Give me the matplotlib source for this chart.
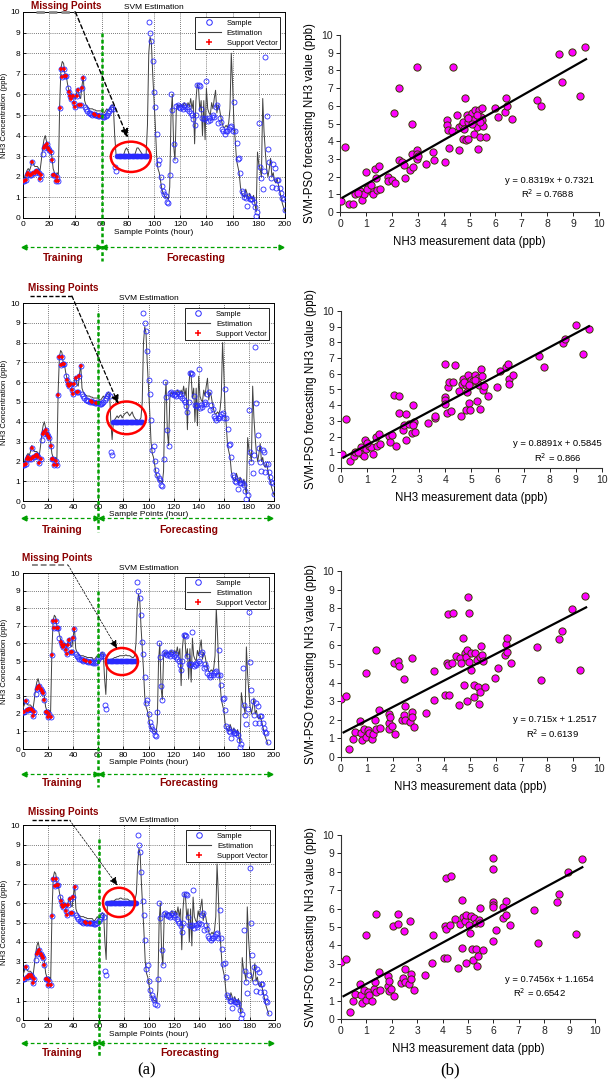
import numpy as np
import matplotlib
matplotlib.use('Agg')
import matplotlib.pyplot as plt
from matplotlib.patches import Ellipse
from matplotlib.lines import Line2D

plt.rcParams['font.family'] = ['Liberation Sans', 'DejaVu Sans']
nan = np.nan

# ---------------- time-series data (hourly samples, index = hour) ----------------
sample_base = [
    1.8, 1.8, 1.85, 2.1, 2.2, 2.1, 2.1, 2.7, 2.2, 2.2,
    2.3, 2.3, 2.2, 1.9, 2.1, 3.1, 3.4, 3.5, 3.6, 3.4,
    3.3, 3.2, 2.8, 2.1, 2.1, 1.8, 2.0, 1.8, 5.35, 7.25,
    6.85, 7.25, 6.9, 6.9, 6.3, 6.1, 5.9, 5.8, 5.9, 5.6,
    5.4, 5.9, 6.2, 5.5, 5.5, 6.3, 6.8, 5.4, 5.3, 5.2,
    5.1, 5.1, 5.05, 5.0, 5.05, 5.0, 5.0, 4.95, 4.95, 5.0,
    4.95, 4.9, 4.9, 4.95, 5.0, 5.1, 5.2, 5.3, 5.4, 5.3,
    2.5, 2.3,
    nan, nan, nan, nan, nan, nan, nan, nan, nan, nan, nan, nan,
    nan, nan, nan, nan, nan, nan, nan, nan, nan, nan, nan, nan,
    9.5, 9.0, 8.6, 7.6, 6.1, 5.4, 4.1, 2.6, 2.8, 2.0,
    1.55, 1.3, 1.15, 1.05, 0.8, 0.75, 2.1, 6.0, 5.25, 3.6,
    2.8, 5.45, 5.5, 5.4, 5.35, 5.4, 5.3, 5.5, 5.4, 5.3,
    5.4, 5.2, 5.1, 5.0, 4.8, 4.5, 5.0, 6.45, 6.45, 6.4,
    5.3, 4.85, 4.8, 4.85, 6.65, 4.7, 4.85, 4.75, 4.9, 5.0,
    4.9, 5.4, 5.5, 4.6, 4.85, 4.65, 4.3, 4.2, 4.1, 4.2,
    4.2, 4.3, 4.4, 4.45, 4.2, 5.65, 4.2, 3.65, 2.85, 2.9,
    2.2, 1.3, 1.2, 1.0, 0.97, 0.6, 1.05, 0.9, 0.92, 0.9,
    0.8, 0.53, 0.11, 0.29, 4.6, 2.5, 1.95, 1.4, 2.3, 7.8,
    4.95, 3.35, 2.7, 1.95, 1.5, 2.6, 2.45, 1.45, 1.85, 1.85,
    1.45, 1.2, 0.97, 0.9, 0.37,
]
estimation_base = [
    1.9, 1.95, 2.1, 2.3, 2.4, 2.3, 2.5, 2.8, 2.6, 2.5,
    2.5, 2.5, 2.4, 2.3, 2.8, 3.4, 3.8, 4.0, 3.7, 3.5,
    3.4, 3.3, 3.0, 2.4, 2.2, 2.0, 2.2, 2.1, 5.5, 7.3,
    7.6, 7.5, 7.0, 6.9, 6.5, 6.2, 6.1, 6.0, 6.0, 5.9,
    5.8, 6.1, 6.3, 5.9, 5.8, 6.4, 6.9, 5.7, 5.5, 5.4,
    5.35, 5.3, 5.3, 5.3, 5.25, 5.25, 5.2, 5.2, 5.2, 5.2,
    5.2, 5.1, 5.1, 5.2, 5.3, 5.2, 5.3, 5.4, 5.5, 5.4,
    4.0, 3.1,
    nan, nan, nan, nan, nan, nan, nan, nan, nan, nan, nan, nan,
    nan, nan, nan, nan, nan, nan, nan, nan, nan, nan, nan, nan,
    8.0, 8.8, 8.5, 7.0, 5.8, 4.5, 3.0, 2.4, 2.2, 1.8,
    1.4, 1.2, 1.1, 1.0, 1.0, 0.9, 1.5, 5.0, 6.0, 3.5,
    2.8, 5.2, 5.5, 5.4, 5.5, 5.5, 5.4, 5.6, 5.5, 5.4,
    5.6, 5.4, 5.8, 5.3, 5.7, 3.6, 5.7, 6.5, 6.3, 5.2,
    5.7, 4.0, 5.7, 3.8, 6.3, 5.3, 5.1, 5.0, 5.6, 5.3,
    5.8, 6.2, 5.1, 5.5, 5.3, 4.9, 4.6, 4.4, 4.4, 4.5,
    4.4, 4.6, 5.3, 8.0, 6.5, 4.6, 3.8, 2.8, 2.5, 2.2,
    1.5, 1.2, 1.1, 1.0, 1.4, 1.2, 0.9, 1.2, 1.0, 0.9,
    1.1, 0.7, 0.3, 3.2, 2.6, 2.4, 2.0, 5.8, 4.2, 3.2,
    2.4, 2.0, 2.4, 2.9, 2.0, 2.2, 1.8, 1.7, 1.9, 1.6,
    1.3, 1.0, 0.7, 0.5, 0.3,
]
missing_start = 72
missing_value = [3, 4, 5, 6]
est_missing_1 = [3.0, 3.0, 3.0, 3.0, 3.0, 3.1, 3.3, 3.4, 3.3, 3.1, 3.0, 3.0,
                 3.0, 3.0, 3.2, 3.4, 3.4, 3.3, 3.2, 3.1, 3.0, 3.0, 3.1, 4.5]
est_missing_2 = [4.0, 4.1, 4.2, 4.3, 4.2, 4.3, 4.35, 4.2, 4.3, 4.4, 4.45, 4.5,
                 4.4, 4.3, 4.4, 4.5, 4.3, 4.2, 4.1, 4.1, 4.0, 4.1, 4.2, 5.0]
est_missing_3 = [5.0, 5.0, 5.05, 5.1, 5.1, 5.15, 5.2, 5.2, 5.25, 5.25, 5.3, 5.3,
                 5.3, 5.3, 5.3, 5.35, 5.3, 5.3, 5.3, 5.25, 5.2, 5.2, 5.3, 6.0]
est_missing_4 = [6.0, 6.0, 6.05, 6.1, 6.1, 6.1, 6.15, 6.2, 6.2, 6.2, 6.25, 6.25,
                 6.2, 6.2, 6.2, 6.2, 6.2, 6.15, 6.1, 6.1, 6.1, 6.1, 6.2, 6.5]
est_missing = [est_missing_1, est_missing_2, est_missing_3, est_missing_4]
support_idx = [0, 1, 2, 3, 4, 5, 6, 7, 8, 9, 10, 11, 12, 13, 14, 16, 17, 18, 19, 20,
               21, 22, 23, 24, 25, 26, 27, 28, 29, 30, 31, 32, 33, 35, 36, 37, 38,
               39, 40, 41, 42, 43, 44, 45, 46, 54, 55, 58]
hour_shift = [0, 0, -5, -5]

# ---------------- scatter data (measured, forecast) ----------------
scatter_1 = [(0.04, 0.6), (0.2, 3.7), (0.35, 0.43), (0.5, 0.47), (0.58, 1.04), (0.77, 1.2),
             (0.84, 0.7), (0.94, 1.04), (1.0, 2.26), (1.09, 1.42), (1.18, 1.2), (1.26, 1.04),
             (1.35, 2.45), (1.39, 1.92), (1.42, 1.26), (1.5, 2.58), (1.54, 1.28), (1.87, 1.98),
             (1.87, 1.74), (2.0, 1.8), (2.1, 5.57), (2.12, 1.64), (2.26, 6.98), (2.26, 2.96),
             (2.38, 2.83), (2.47, 2.64), (2.51, 1.94), (2.7, 2.36), (2.77, 3.26), (2.79, 5.0),
             (2.83, 2.55), (2.99, 8.21), (2.99, 3.53), (2.99, 3.3), (2.99, 3.02), (3.32, 2.7),
             (3.6, 3.4), (3.63, 2.96), (4.04, 2.83), (4.12, 5.19), (4.14, 4.9), (4.18, 4.62),
             (4.22, 3.62), (4.35, 8.21), (4.31, 4.58), (4.5, 5.47), (4.6, 3.49), (4.6, 4.81),
             (4.7, 4.9), (4.76, 5.09), (4.76, 4.13), (4.83, 6.45), (4.86, 4.06), (4.89, 5.47),
             (4.93, 4.15), (4.95, 5.09), (5.02, 5.38), (5.08, 5.57), (5.15, 5.19), (5.17, 4.43),
             (5.21, 5.75), (5.28, 4.81), (5.34, 3.58), (5.38, 5.75), (5.41, 4.25), (5.44, 5.38),
             (5.47, 5.89), (5.5, 5.19), (5.53, 4.85), (5.62, 4.25), (5.98, 5.89), (6.09, 5.38),
             (6.37, 5.66), (6.4, 6.42), (6.46, 5.98), (6.63, 5.28), (7.59, 6.32), (7.76, 5.98),
             (8.47, 8.9), (8.57, 7.36), (8.94, 9.02), (9.27, 6.57), (9.46, 9.34),
             (4.95, 5.3), (5.1, 5.0), (5.3, 5.5), (5.4, 5.1), (4.8, 4.7), (1.05, 1.3),
             (0.7, 1.1), (1.2, 1.5), (3.0, 3.15)]
scatter_2 = [(0.04, 0.91), (0.2, 3.14), (0.33, 0.42), (0.48, 0.74), (0.55, 1.02), (0.78, 1.34),
             (0.8, 0.91), (0.87, 0.74), (0.93, 1.76), (0.96, 1.23), (1.06, 1.38), (1.15, 1.34),
             (1.22, 0.91), (1.35, 1.97), (1.38, 1.4), (1.46, 2.14), (1.5, 1.55), (1.82, 2.02),
             (1.86, 1.66), (1.95, 2.08), (2.04, 4.63), (2.1, 1.4), (2.23, 4.56), (2.24, 3.52),
             (2.37, 2.4), (2.42, 2.76), (2.5, 3.42), (2.48, 1.8), (2.59, 2.82), (2.71, 2.25),
             (2.75, 4.03), (2.78, 2.93), (2.75, 2.72), (2.84, 2.29), (3.32, 2.87), (3.6, 3.18),
             (3.6, 3.29), (3.99, 4.52), (3.99, 4.31), (3.99, 4.06), (3.99, 6.65), (4.05, 3.5),
             (4.11, 5.16), (4.15, 5.48), (4.2, 3.63), (4.31, 5.48), (4.37, 6.58), (4.54, 4.88),
             (4.59, 3.31), (4.62, 5.37), (4.66, 5.69), (4.79, 5.27), (4.82, 4.84), (4.79, 3.72),
             (4.88, 5.9), (4.92, 4.14), (4.94, 3.72), (5.0, 5.58), (5.07, 5.52), (5.13, 5.94),
             (5.2, 4.25), (5.26, 5.75), (5.3, 5.27), (5.32, 3.78), (5.36, 6.33), (5.39, 5.84),
             (5.43, 4.95), (5.49, 5.2), (5.62, 4.56), (5.99, 5.16), (6.09, 6.18), (6.34, 6.43),
             (6.41, 6.65), (6.45, 5.65), (6.45, 5.37), (6.6, 5.9), (7.59, 7.13), (7.78, 6.43),
             (8.51, 7.96), (8.6, 8.24), (9.0, 9.13), (9.27, 7.24), (9.5, 8.87),
             (4.7, 5.5), (4.9, 5.3), (5.15, 5.6), (1.0, 1.6), (0.65, 1.0)]
scatter_3 = [(0.0, 3.14), (0.2, 3.27), (0.32, 0.41), (0.46, 0.99), (0.55, 1.35), (0.75, 1.92),
             (0.79, 1.29), (0.81, 0.9), (0.88, 1.49), (0.95, 4.54), (0.98, 1.08), (1.05, 1.44),
             (1.1, 1.29), (1.2, 0.99), (1.24, 1.22), (1.33, 1.97), (1.36, 5.75), (1.37, 1.49),
             (1.48, 2.55), (1.52, 1.56), (1.85, 2.33), (1.85, 1.83), (1.87, 1.53), (1.91, 2.15),
             (1.97, 1.67), (2.06, 5.06), (2.1, 1.26), (2.21, 5.17), (2.25, 4.88), (2.36, 1.97),
             (2.45, 2.24), (2.46, 4.22), (2.49, 2.75), (2.49, 1.97), (2.68, 1.88), (2.75, 5.3),
             (2.75, 2.42), (2.77, 2.15), (2.84, 1.62), (3.3, 2.37), (3.59, 3.09), (3.61, 4.61),
             (4.03, 3.32), (4.1, 5.06), (4.13, 7.68), (4.13, 4.94), (4.19, 3.32), (4.3, 5.06),
             (4.36, 7.76), (4.46, 5.42), (4.58, 2.78), (4.62, 5.33), (4.65, 5.08), (4.72, 6.41),
             (4.75, 3.86), (4.79, 5.57), (4.84, 5.35), (4.88, 5.75), (4.9, 3.0), (4.94, 8.62),
             (4.97, 7.76), (4.98, 5.12), (5.03, 5.6), (5.05, 4.7), (5.14, 3.86), (5.16, 3.23),
             (5.2, 5.6), (5.26, 5.21), (5.3, 3.77), (5.33, 2.87), (5.37, 5.39), (5.39, 3.5),
             (5.43, 5.96), (5.46, 5.48), (5.5, 5.15), (5.59, 3.77), (5.97, 4.25), (6.08, 4.81),
             (6.34, 5.48), (6.39, 6.1), (6.43, 6.41), (6.45, 5.66), (6.59, 5.08), (7.59, 5.92),
             (7.76, 4.13), (8.46, 6.34), (8.57, 6.79), (8.95, 7.94), (9.26, 4.67), (9.46, 8.65)]
scatter_4 = [(0.01, 3.09), (0.2, 3.27), (0.34, 0.4), (0.47, 0.99), (0.57, 1.36), (0.74, 1.92),
             (0.8, 1.32), (0.83, 0.87), (0.89, 1.56), (0.99, 4.57), (1.0, 1.05), (1.06, 1.45),
             (1.12, 1.32), (1.22, 0.96), (1.31, 1.63), (1.35, 1.99), (1.38, 5.7), (1.39, 1.46),
             (1.48, 2.55), (1.52, 1.59), (1.85, 2.31), (1.85, 1.81), (1.88, 1.5), (1.9, 2.08),
             (1.98, 1.65), (2.05, 5.06), (2.1, 1.23), (2.23, 5.71), (2.25, 5.15), (2.37, 1.95),
             (2.44, 2.22), (2.47, 4.76), (2.5, 2.71), (2.5, 1.99), (2.67, 1.92), (2.73, 5.33),
             (2.76, 2.44), (2.76, 2.17), (2.86, 1.59), (3.3, 2.37), (3.59, 3.07), (3.61, 4.57),
             (4.05, 3.31), (4.11, 5.03), (4.14, 7.69), (4.14, 4.9), (4.18, 3.31), (4.31, 5.12),
             (4.35, 7.78), (4.47, 5.42), (4.6, 2.77), (4.68, 5.17), (4.77, 6.47), (4.77, 3.85),
             (4.81, 5.52), (4.88, 5.33), (4.93, 3.04), (4.94, 5.66), (5.03, 5.12), (5.06, 4.7),
             (5.1, 5.61), (5.16, 3.8), (5.2, 3.22), (5.23, 5.48), (5.3, 5.21), (5.33, 3.8),
             (5.36, 2.86), (5.43, 5.39), (5.4, 3.44), (5.49, 6.02), (5.49, 5.21), (5.6, 3.73),
             (5.99, 8.73), (5.99, 8.14), (5.99, 6.35), (5.99, 6.2), (5.99, 6.06), (5.99, 4.25),
             (6.11, 4.85), (6.39, 5.48), (6.39, 6.11), (6.48, 6.44), (6.48, 5.64), (6.64, 5.12),
             (7.6, 5.93), (7.77, 4.12), (8.49, 6.35), (8.59, 6.8), (8.95, 7.97), (9.26, 4.63),
             (9.47, 8.7)]
scatters = [scatter_1, scatter_2, scatter_3, scatter_4]
fit_slope = [0.8319, 0.8891, 0.715, 0.7456]
fit_intercept = [0.7321, 0.5845, 1.2517, 1.1654]
r2_label = ['0.7688', '0.866', '0.6139', '0.6542']
fit_range = [0.1, 9.5]

# ---------------- layout (pixel boxes: left, top, right, bottom) ----------------
W, H = 609, 1083
left_boxes = [(23, 12, 285, 218), (23, 303, 274, 501), (23, 573, 274, 749), (23, 825, 275, 1020)]
right_boxes = [(340, 35, 599, 212), (341, 311, 602, 468), (341, 571, 599, 757), (341, 835, 595, 1019)]

GREEN = '#00A000'
DRED = '#8B0000'
BLUE = '#2a2aff'

fig = plt.figure(figsize=(W / 100, H / 100), dpi=100)


def rect(b):
    l, t, r, bt = b
    return [l / W, 1 - bt / H, (r - l) / W, (bt - t) / H]


# per-panel annotation geometry
mp_text = [(33, 10.3), (32, 10.75), (27, 10.85), (32, 10.65)]
mp_dash = [((10, 40), 10.0, '#888888', 2.0), ((5.6, 39), 10.35, 'black', 1.0),
           ((7, 36), 10.45, '#888888', 1.4), ((7, 37), 10.25, 'black', 1.0)]
mp_arrow_end = [(80, 3.9), (76, 4.9), (75, 5.7), (75, 6.9)]
mp_arrow_lw = [1.0, 0.9, 0.5, 0.5]
ell = [((82.3, 2.97), 30.5, 1.47), ((82.5, 4.2), 31, 1.65),
       ((78.8, 4.97), 25.6, 1.54), ((76.2, 6.03), 25.4, 1.5)]
vline_y = [(9.0, -2.1), (9.5, -1.57), (9.0, -2.16), (9.3, -1.9)]
arrow_y = [-1.4, -0.86, -1.42, -1.18]
text_y = [-1.95, -1.45, -1.93, -1.7]
xlabel_pad = [1.0, 0.5, 0.5, 1.0]

for p in range(4):
    ax = fig.add_axes(rect(left_boxes[p]))
    hrs = np.arange(len(sample_base)) + hour_shift[p]
    samp = np.array(sample_base, dtype=float)
    est = np.array(estimation_base, dtype=float)
    n_miss = len(est_missing[p])
    samp[missing_start:missing_start + n_miss] = missing_value[p]
    est[missing_start:missing_start + n_miss] = est_missing[p]
    keep = hrs >= 0
    miss = np.zeros(len(samp), dtype=bool)
    miss[missing_start:missing_start + n_miss] = True
    ax.plot(hrs[keep], est[keep], color='#404040', lw=0.7, zorder=3)
    ax.plot(hrs[keep & ~miss], samp[keep & ~miss], 'o', mfc='none', mec=BLUE, ms=3.6, mew=0.6, zorder=4)
    ax.plot(hrs[miss], samp[miss], 'o', mfc=BLUE, mec=BLUE, ms=3.4, mew=0.6, zorder=4)
    sv = np.array(support_idx)
    sv_h = sv + hour_shift[p]
    ok = sv_h >= 0
    ax.plot(sv_h[ok], samp[sv][ok], '+', color='red', ms=3.5, mew=1.1, zorder=5)

    ax.set_xlim(0, 200)
    ax.set_ylim(0, 10)
    ax.set_xticks(np.arange(0, 201, 20))
    ax.set_yticks(np.arange(0, 11, 1))
    ax.tick_params(direction='in', labelsize=6, length=2.5, width=0.6, pad=2)
    ax.grid(True, linestyle=(0, (1, 2)), color='black', lw=0.5)
    for s in ax.spines.values():
        s.set_linewidth(0.7)
    ax.set_title('SVM Estimation', fontsize=6, pad=2)
    ax.set_ylabel('NH3 Concentration (ppb)', fontsize=5.5, labelpad=2)
    ax.set_xlabel('Sample Points (hour)', fontsize=6, labelpad=xlabel_pad[p])

    leg_handles = [Line2D([], [], marker='o', ls='none', mfc='none', mec=BLUE, ms=4, mew=0.7),
                   Line2D([], [], color='#404040', lw=0.8),
                   Line2D([], [], marker='+', ls='none', color='red', ms=4, mew=1.1)]
    lg = ax.legend(leg_handles, ['Sample', 'Estimation', 'Support Vector'], loc='upper right',
                   bbox_to_anchor=(0.98, 0.975), borderaxespad=0, fontsize=5.5, fancybox=False,
                   framealpha=1, edgecolor='black', handlelength=3.0, labelspacing=0.35,
                   borderpad=0.3, handletextpad=0.8)
    lg.get_frame().set_linewidth(0.6)
    lg.set_zorder(10)

    # red ellipse
    (cx, cy), ew, eh = ell[p]
    ax.add_patch(Ellipse((cx, cy), ew, eh, fill=False, edgecolor='red', lw=1.8, zorder=6))

    # Missing points annotation
    tx, ty = mp_text[p]
    ax.text(tx, ty, 'Missing Points', color=DRED, fontsize=7.2, fontweight='bold',
            ha='center', va='center', clip_on=False, zorder=12)
    (dx0, dx1), dy, dc, dlw = mp_dash[p]
    ax.plot([dx0, dx1], [dy, dy], ls=(0, (3, 1.5)), color=dc, lw=dlw, clip_on=False, zorder=12)
    ax.annotate('', xy=mp_arrow_end[p], xytext=(dx1, dy), annotation_clip=False,
                arrowprops=dict(arrowstyle='-|>,head_length=0.5,head_width=0.22',
                                linestyle=(0, (3, 2)), color='black', lw=mp_arrow_lw[p],
                                shrinkA=0, shrinkB=0), zorder=12)

    # training / forecasting split
    vy0, vy1 = vline_y[p]
    ax.plot([60, 60], [vy0, vy1], ls=(0, (1.5, 1)), color=GREEN, lw=1.8, clip_on=False, zorder=7)
    ay = arrow_y[p]
    for (xa, xb) in [(1, 58), (62, 197)]:
        ax.plot([xa, xb], [ay, ay], ls=(0, (3, 2)), color=GREEN, lw=0.9, clip_on=False)
        ax.plot([xa], [ay], marker='<', color=GREEN, ms=3.5, clip_on=False)
        ax.plot([xb], [ay], marker='>', color=GREEN, ms=3.5, clip_on=False)
    ax.text(31, text_y[p], 'Training', color=DRED, fontsize=7.5, fontweight='bold',
            ha='center', va='center', clip_on=False)
    ax.text(132, text_y[p], 'Forecasting', color=DRED, fontsize=7.5, fontweight='bold',
            ha='center', va='center', clip_on=False)

# ---------------- scatter panels ----------------
eq_pos = [((8.1, 1.8), (8.0, 1.04)), ((8.3, 1.55), (8.3, 0.64)),
          ((8.3, 2.0), (8.2, 1.26)), ((8.2, 2.17), (7.8, 1.41))]
for p in range(4):
    ax = fig.add_axes(rect(right_boxes[p]))
    xs = [a for a, b in scatters[p]]
    ys = [b for a, b in scatters[p]]
    ax.scatter(xs, ys, s=27, facecolor='#FF00FF', edgecolor='#3a3a00', linewidths=0.7, zorder=3)
    fx = np.array(fit_range)
    ax.plot(fx, fit_slope[p] * fx + fit_intercept[p], color='black', lw=1.6, zorder=4)
    ax.set_xlim(0, 10)
    ax.set_ylim(0, 10)
    ax.set_xticks(np.arange(0, 11, 1))
    ax.set_yticks(np.arange(0, 11, 1))
    for side in ['top', 'right']:
        ax.spines[side].set_visible(False)
    for side in ['left', 'bottom']:
        ax.spines[side].set_linewidth(0.8)
        ax.spines[side].set_color('#333333')
    ax.tick_params(direction='out', labelsize=7.5, length=3, width=0.7, pad=2, colors='#222222')
    ax.set_xlabel('NH3 measurement data (ppb)', fontsize=8.3, labelpad=5)
    ax.set_ylabel('SVM-PSO forecasting NH3 value (ppb)', fontsize=8.3, labelpad=4)
    (ex, ey), (rx, ry) = eq_pos[p]
    ax.text(ex, ey, 'y = %sx + %s' % (fit_slope[p], fit_intercept[p]), fontsize=6.8,
            ha='center', va='center')
    ax.text(rx, ry, 'R$^2$ = %s' % r2_label[p], fontsize=6.8, ha='center', va='center')

fig.text(147 / W, 1 - 1070 / H, '(a)', family='Liberation Serif', fontsize=12, ha='center', va='center')
fig.text(450 / W, 1 - 1070 / H, '(b)', family='Liberation Serif', fontsize=12, ha='center', va='center')

fig.savefig('out.png', dpi=100)
